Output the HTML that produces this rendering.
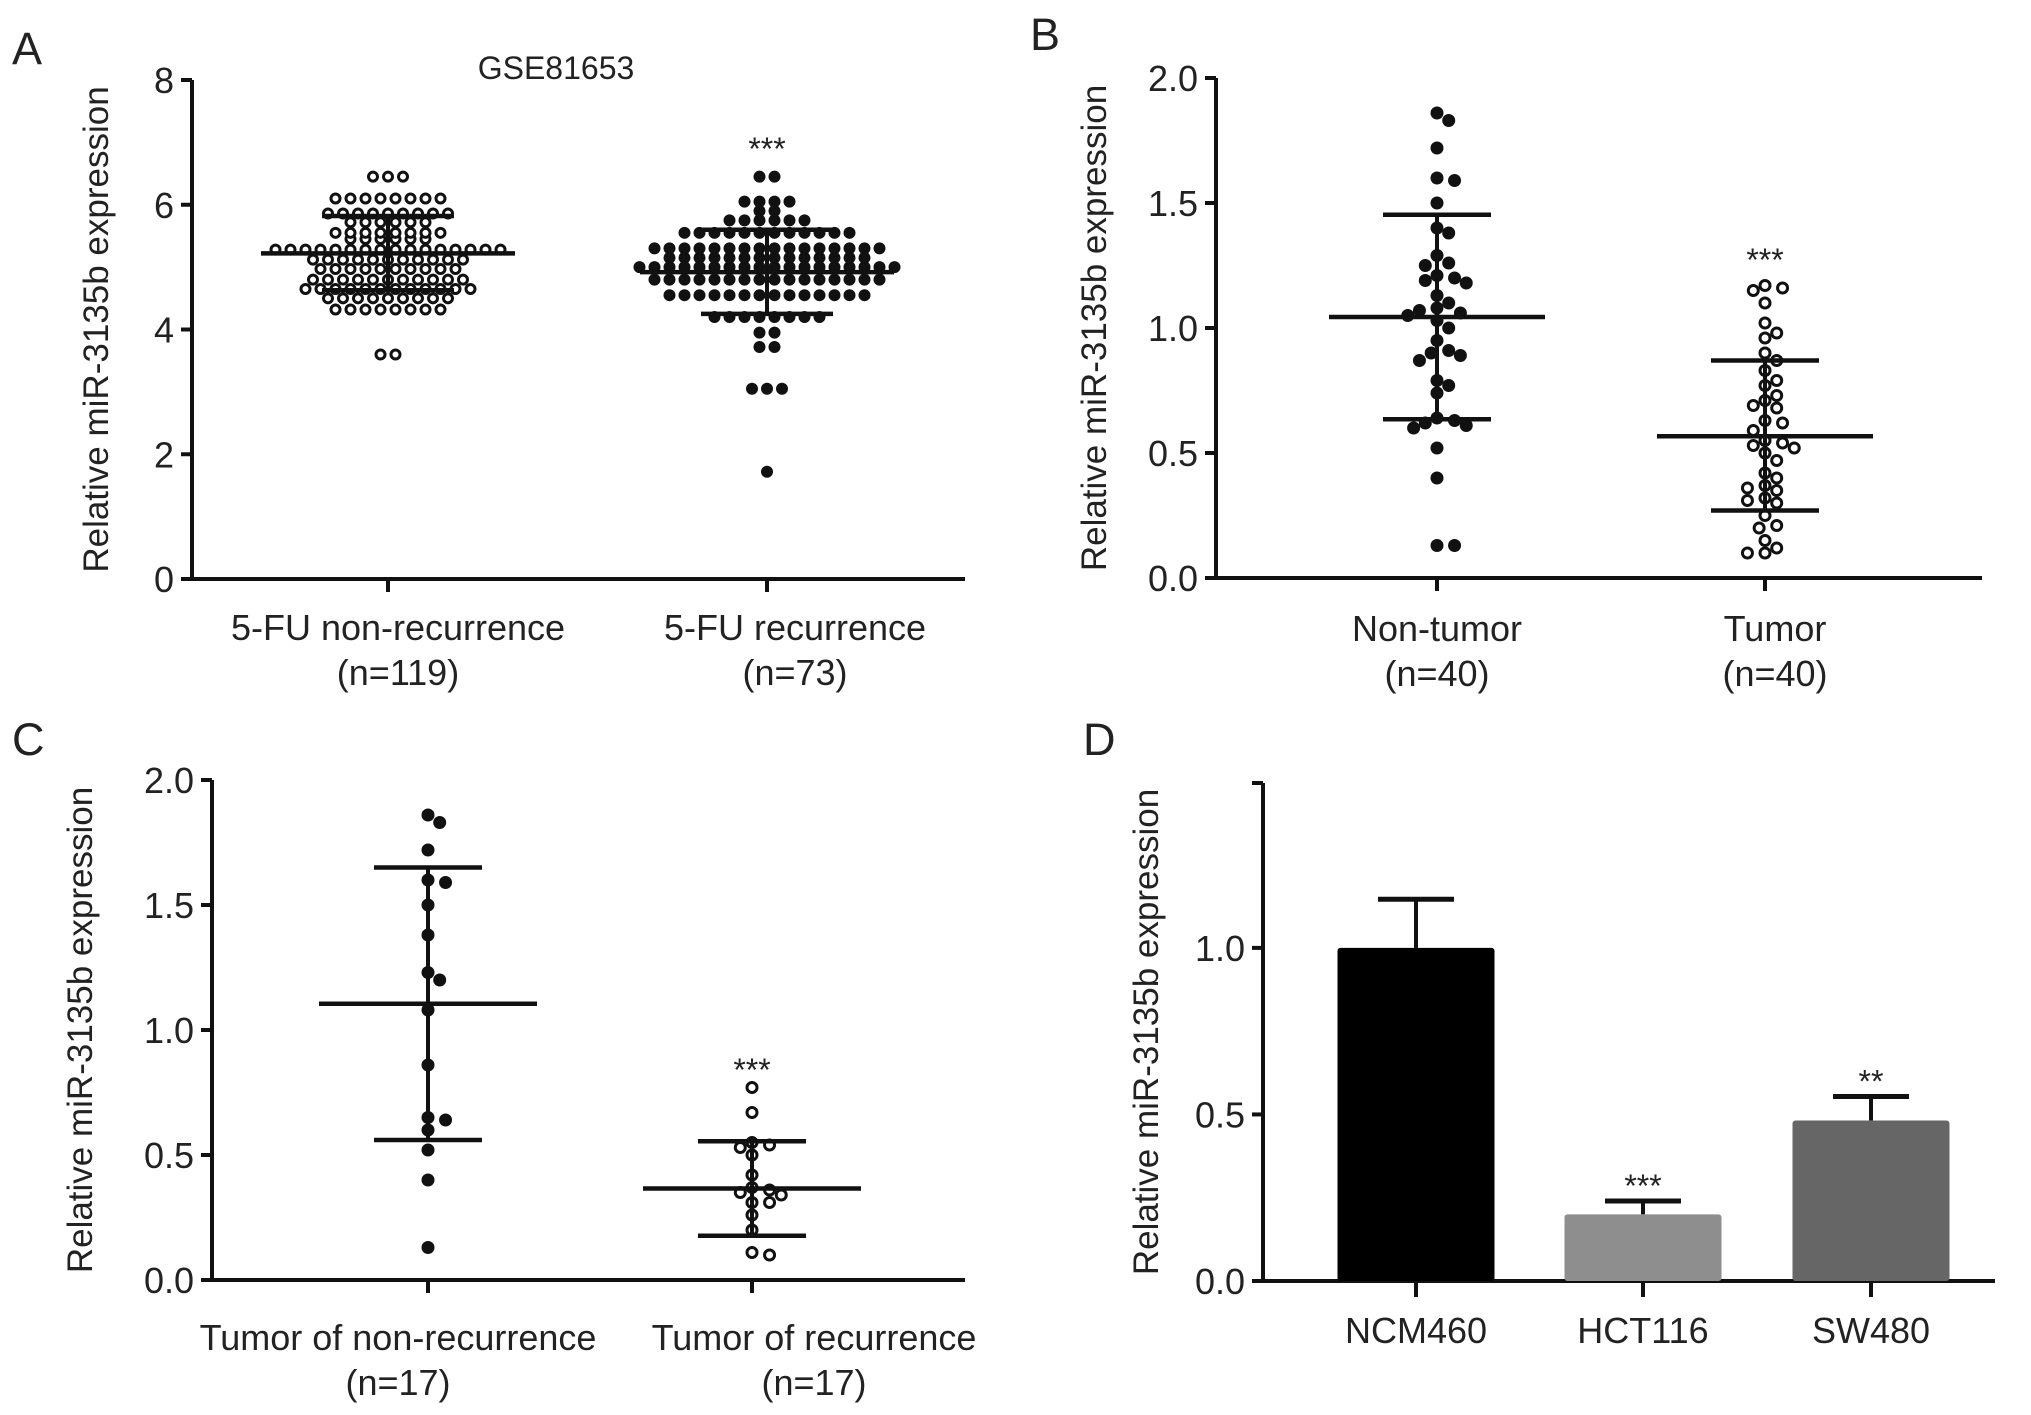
<!DOCTYPE html>
<html><head><meta charset="utf-8"><style>
html,body{margin:0;padding:0;background:#fff;overflow:hidden}
svg{display:block}
text{font-family:"Liberation Sans",Arial,sans-serif;fill:#222}
</style></head><body>
<svg id="fig" width="2031" height="1415" viewBox="0 0 2031 1415" xmlns="http://www.w3.org/2000/svg"></svg>
<script>
// ---------- Panel A data ----------
const aCats = ["5-FU non-recurrence","5-FU recurrence"];
const aN = ["(n=119)","(n=73)"];
const aTicks = [0,2,4,6,8];
const aNonRec = [3.6,3.6,4.32,4.32,4.32,4.32,4.32,4.32,4.32,4.32,4.5,4.5,4.5,4.5,4.5,4.5,4.5,4.5,4.5,4.65,4.65,4.65,4.65,4.65,4.65,4.65,4.65,4.65,4.65,4.65,4.65,4.8,4.8,4.8,4.8,4.8,4.8,4.8,4.8,4.8,4.8,4.8,4.97,4.97,4.97,4.97,4.97,4.97,4.97,4.97,4.97,4.97,5.12,5.12,5.12,5.12,5.12,5.12,5.12,5.12,5.12,5.12,5.12,5.28,5.28,5.28,5.28,5.28,5.28,5.28,5.28,5.28,5.28,5.28,5.28,5.28,5.28,5.28,5.28,5.45,5.45,5.45,5.45,5.45,5.45,5.55,5.55,5.55,5.55,5.55,5.55,5.55,5.55,5.72,5.72,5.72,5.72,5.72,5.72,5.86,5.86,5.86,5.86,5.86,5.86,5.86,5.86,5.86,6.1,6.1,6.1,6.1,6.1,6.1,6.1,6.1,6.45,6.45,6.45];
const aRec = [1.72,3.05,3.05,3.05,3.72,3.72,3.95,3.95,4.2,4.2,4.2,4.2,4.2,4.2,4.2,4.2,4.55,4.55,4.55,4.55,4.55,4.55,4.55,4.55,4.55,4.55,4.55,4.55,4.55,4.55,4.8,4.8,4.8,4.8,4.8,4.8,4.8,4.8,4.8,4.8,4.8,4.8,4.8,4.8,4.8,4.8,5.0,5.0,5.0,5.0,5.0,5.0,5.0,5.0,5.0,5.0,5.0,5.0,5.0,5.0,5.0,5.0,5.0,5.0,5.15,5.15,5.15,5.15,5.15,5.15,5.15,5.15,5.15,5.15,5.15,5.15,5.15,5.15,5.3,5.3,5.3,5.3,5.3,5.3,5.3,5.3,5.3,5.3,5.3,5.3,5.3,5.3,5.3,5.3,5.55,5.55,5.55,5.55,5.55,5.55,5.55,5.55,5.55,5.55,5.55,5.55,5.75,5.75,5.75,5.75,5.75,5.75,5.9,5.9,6.05,6.05,6.05,6.05,6.45,6.45];
const aMean = [5.22,4.92];
const aSdHi = [5.82,5.6];
const aSdLo = [4.63,4.25];

// ---------- Panel B data ----------
const bCats = ["Non-tumor","Tumor"];
const bN = ["(n=40)","(n=40)"];
const bTicks = [0,0.5,1.0,1.5,2.0];
const bNon = [1.86,1.83,1.72,1.6,1.59,1.5,1.4,1.38,1.29,1.26,1.25,1.21,1.2,1.19,1.18,1.13,1.1,1.08,1.07,1.06,1.05,1.03,1.0,0.91,0.9,0.89,0.87,0.79,0.77,0.74,0.64,0.63,0.62,0.61,0.6,0.52,0.4,0.13,0.13,0.95];
const bTum = [1.17,1.16,1.15,1.1,1.02,0.98,0.96,0.9,0.87,0.83,0.79,0.77,0.73,0.71,0.69,0.68,0.63,0.62,0.59,0.55,0.54,0.53,0.52,0.5,0.47,0.42,0.4,0.37,0.36,0.35,0.32,0.31,0.3,0.25,0.21,0.2,0.15,0.12,0.1,0.1];
const bMean = [1.044,0.567];
const bSdHi = [1.453,0.87];
const bSdLo = [0.635,0.27];

// ---------- Panel C data ----------
const cCats = ["Tumor of non-recurrence","Tumor of recurrence"];
const cN = ["(n=17)","(n=17)"];
const cTicks = [0,0.5,1.0,1.5,2.0];
const cNon = [1.86,1.83,1.72,1.6,1.59,1.5,1.38,1.23,1.2,1.08,0.86,0.65,0.64,0.6,0.52,0.4,0.13];
const cRec = [0.77,0.67,0.55,0.54,0.53,0.5,0.42,0.37,0.36,0.35,0.34,0.31,0.31,0.26,0.2,0.11,0.1];
const cMean = [1.105,0.366];
const cSdHi = [1.65,0.555];
const cSdLo = [0.56,0.177];

// ---------- Panel D data ----------
const dCats = ["NCM460","HCT116","SW480"];
const dTicks = [0,0.5,1.0];
const dValues = [1.0,0.2,0.482];
const dErr = [0.146,0.04,0.072];
const dStars = ["","***","**"];

const NS="http://www.w3.org/2000/svg";
const svg=document.getElementById('fig');
function mk(tag,attrs,parent){const e=document.createElementNS(NS,tag);for(const k in attrs)e.setAttribute(k,attrs[k]);(parent||svg).appendChild(e);return e;}
function txt(s,x,y,size,anchor,parent){const t=mk('text',{x:x,y:y,'font-size':size,'text-anchor':anchor||'middle'},parent);t.textContent=s;return t;}

function axes(g,p){
  const ys=v=>p.yBot-(v/p.vmax)*(p.yBot-p.yTop);
  const yl=mk('line',{x1:p.x0,y1:p.yTop,x2:p.x0,y2:p.yBot+2,stroke:'#111','stroke-width':4},g);
  
  
  const xl=mk('line',{x1:p.x0-8,y1:p.yBot,x2:p.x1,y2:p.yBot,stroke:'#111','stroke-width':4},g);
  
  
  p.ticks.forEach(v=>{
    const y=ys(v);
    mk('line',{x1:p.x0-11,y1:y,x2:p.x0,y2:y,stroke:'#111','stroke-width':4},g);
    const t=txt(p.fmt(v),p.x0-18,y+13,36,'end',g);
    
    
  });
  if(p.extraTop){mk('line',{x1:p.x0-11,y1:p.yTop,x2:p.x0,y2:p.yTop,stroke:'#111','stroke-width':4},g);}
  const yt=txt('Relative miR-3135b expression',0,0,35,'middle',g);
  yt.setAttribute('transform',`translate(${p.titleX},${(p.yTop+p.yBot)/2}) rotate(-90)`);
  
  
  return ys;
}

function dot(g,x,y,r,filled){
  const c=filled?mk('circle',{cx:x,cy:y,r:r,fill:'#111'},g):mk('circle',{cx:x,cy:y,r:r-1.5,fill:'#fff',stroke:'#111','stroke-width':3},g);
  
  
}

function rowsLayout(g,vals,cx,ys,filled,r,sp){
  const groups={};
  vals.forEach(v=>{groups[v]=(groups[v]||0)+1;});
  Object.keys(groups).forEach(k=>{
    const n=groups[k],v=parseFloat(k);
    for(let i=0;i<n;i++){dot(g,cx+(i-(n-1)/2)*sp,ys(v),r,filled);}
  });
}

function swarm(g,vals,cx,ys,filled,r){
  const placed=[];
  const sorted=vals.slice().sort((a,b)=>b-a);
  const step=r*0.9;
  sorted.forEach(v=>{
    const y=ys(v);
    let x=cx;
    for(let k=0;k<200;k++){
      const off=(k===0?0:(k%2?1:-1)*Math.ceil(k/2)*step);
      const cand=cx+off;
      if(placed.every(q=>Math.hypot(q[0]-cand,q[1]-y)>=2*r*0.95)){x=cand;break;}
    }
    placed.push([x,y]);
    dot(g,x,y,r,filled);
  });
}

function errbars(g,cx,ys,mean,hi,lo,mw,sw){
  mk('line',{x1:cx,y1:ys(hi),x2:cx,y2:ys(lo),stroke:'#111','stroke-width':4},g);
  const m=mk('line',{x1:cx-mw,y1:ys(mean),x2:cx+mw,y2:ys(mean),stroke:'#111','stroke-width':4.5},g);
  
  
  [hi,lo].forEach(v=>{
    const l=mk('line',{x1:cx-sw,y1:ys(v),x2:cx+sw,y2:ys(v),stroke:'#111','stroke-width':4.5},g);
    
    
  });
}

function scatterPanel(name,cfg){
  const g=mk('g',{});
  
  
  const ys=axes(g,cfg);
  const L=txt(cfg.letter,cfg.letterX,cfg.letterY,45,'start',g);
  
  
  cfg.cats.forEach((c,i)=>{
    const cx=cfg.cx[i];
    mk('line',{x1:cx,y1:cfg.yBot,x2:cx,y2:cfg.yBot+13,stroke:'#111','stroke-width':4},g);
    const t1=txt(c,cx+cfg.labOff[i],cfg.labY,36,'middle',g);
    
    
    const t2=txt(cfg.n[i],cx+cfg.labOff[i],cfg.nY,36,'middle',g);
    
    
    if(cfg.rows) rowsLayout(g,cfg.series[i],cx,ys,cfg.filled[i],cfg.r,cfg.sp);
    else swarm(g,cfg.series[i],cx,ys,cfg.filled[i],cfg.r);
    errbars(g,cx,ys,cfg.mean[i],cfg.hi[i],cfg.lo[i],cfg.mw,cfg.sw);
  });
  const s=txt('***',cfg.cx[1],cfg.starY,32,'middle',g);
  
  
  return g;
}

const gA=scatterPanel('panel-a',{letter:'A',letterX:12,letterY:64,x0:192,x1:965,yTop:80,yBot:579,vmax:8,ticks:aTicks,fmt:v=>String(v),titleX:108,
  cats:aCats,n:aN,cx:[388,767],labOff:[10,28],labY:640,nY:685,series:[aNonRec,aRec],filled:[false,true],rows:true,r:6,sp:15,mean:aMean,hi:aSdHi,lo:aSdLo,mw:127,sw:66,starY:160});
const tA=txt('GSE81653',556,79,32,'middle',gA);



scatterPanel('panel-b',{letter:'B',letterX:1030,letterY:50,x0:1216,x1:1982,yTop:78,yBot:578,vmax:2,ticks:bTicks,fmt:v=>v.toFixed(1),titleX:1106,
  cats:bCats,n:bN,cx:[1437,1765],labOff:[0,10],labY:641,nY:686,series:[bNon,bTum],filled:[true,false],r:6.5,mean:bMean,hi:bSdHi,lo:bSdLo,mw:108,sw:54,starY:271});

scatterPanel('panel-c',{letter:'C',letterX:12,letterY:755,x0:212,x1:965,yTop:780,yBot:1280,vmax:2,ticks:cTicks,fmt:v=>v.toFixed(1),titleX:92,
  cats:cCats,n:cN,cx:[428,752],labOff:[-30,62],labY:1350,nY:1395,series:[cNon,cRec],filled:[true,false],r:6.5,mean:cMean,hi:cSdHi,lo:cSdLo,mw:109,sw:54,starY:1081});

// ---------- Panel D ----------
(function(){
  const g=mk('g',{});
  
  
  const p={x0:1263,x1:1995,yTop:783,yBot:1281,vmax:1.495,ticks:dTicks,fmt:v=>v.toFixed(1),titleX:1158,extraTop:true};
  const ys=axes(g,p);
  const L=txt('D',1083,755,45,'start',g);
  
  
  const cx=[1416,1643,1871];
  const fills=['#000','#8e8e8e','#666'];
  const bw=157;
  dCats.forEach((c,i)=>{
    const top=ys(dValues[i]);
    const e=ys(dValues[i]+dErr[i]);
    mk('line',{x1:cx[i],y1:e,x2:cx[i],y2:top,stroke:'#111','stroke-width':4},g);
    mk('line',{x1:cx[i]-38,y1:e,x2:cx[i]+38,y2:e,stroke:'#111','stroke-width':5},g);
    const b=mk('rect',{x:cx[i]-bw/2,y:top,width:bw,height:p.yBot-top,fill:fills[i],rx:3},g);
    
    
    mk('line',{x1:cx[i],y1:p.yBot,x2:cx[i],y2:p.yBot+16,stroke:'#111','stroke-width':4},g);
    const t=txt(c,cx[i],1343,36,'middle',g);
    
    
    if(dStars[i]){
      const s=txt(dStars[i],cx[i],e-4,32,'middle',g);
      
      
    }
  });
})();
</script>
</body></html>
